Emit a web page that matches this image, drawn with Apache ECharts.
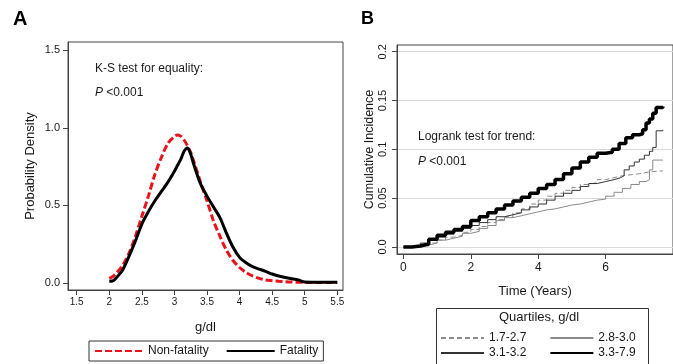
<!DOCTYPE html>
<html><head><meta charset="utf-8">
<script src="https://cdn.jsdelivr.net/npm/echarts@6/dist/echarts.min.js"></script>
<style>html,body{margin:0;padding:0;background:#fff}#c{width:673px;height:364px}</style>
</head><body><div id="c"></div>
<script>
// ---- Panel A: density of g/dl ----
const gdl = [2.0,2.05,2.1,2.2,2.3,2.4,2.5,2.6,2.7,2.8,2.9,3.0,3.05,3.1,3.15,3.2,3.25,3.3,3.4,3.5,3.6,3.7,3.8,3.9,4.0,4.1,4.2,4.3,4.4,4.5,4.6,4.7,4.8,4.9,5.0,5.1,5.2,5.3,5.4,5.5];
const nonFatality = [0.03,0.04,0.06,0.11,0.19,0.30,0.43,0.56,0.70,0.81,0.90,0.945,0.953,0.945,0.92,0.885,0.84,0.78,0.65,0.53,0.40,0.30,0.21,0.145,0.10,0.068,0.046,0.03,0.02,0.015,0.011,0.008,0.006,0.005,0.004,0.003,0.003,0.003,0.003,0.003];
const fatality = [0.012,0.013,0.03,0.08,0.17,0.27,0.38,0.46,0.53,0.59,0.65,0.72,0.76,0.80,0.85,0.87,0.83,0.76,0.64,0.56,0.49,0.42,0.32,0.23,0.165,0.13,0.105,0.09,0.075,0.058,0.045,0.035,0.028,0.02,0.006,0.005,0.005,0.005,0.005,0.005];
const aXTicks = [1.5,2,2.5,3,3.5,4,4.5,5,5.5];
const aYTicks = [0,0.5,1.0,1.5];

// ---- Panel B: cumulative incidence by quartile ----
const q1Years = [0,0.5,0.75,1.0,1.25,1.5,1.75,2.0,2.25,2.5,2.75,3.0,3.25,3.5,3.75,4.0,4.25,4.5,4.75,5.0,5.25,5.5,5.75,6.0,6.25,6.5,6.75,7.0,7.15,7.3,7.7];
const q1Inc   = [0,0.001,0.004,0.007,0.010,0.012,0.015,0.018,0.021,0.025,0.028,0.031,0.035,0.039,0.044,0.048,0.052,0.055,0.058,0.061,0.064,0.066,0.069,0.071,0.073,0.074,0.075,0.076,0.077,0.078,0.078];
const q2Years = [0,0.5,0.75,1.0,1.25,1.5,1.75,2.0,2.25,2.5,2.75,3.0,3.25,3.5,3.75,4.0,4.25,4.5,4.75,5.0,5.25,5.5,5.75,6.0,6.25,6.5,6.75,7.0,7.2,7.3,7.4,7.7];
const q2Inc   = [0,0.002,0.004,0.007,0.009,0.011,0.014,0.016,0.019,0.022,0.027,0.030,0.032,0.034,0.036,0.038,0.039,0.041,0.043,0.044,0.046,0.048,0.049,0.052,0.056,0.060,0.064,0.067,0.069,0.079,0.089,0.089];
const q3Years = [0,0.25,0.5,0.75,1.0,1.25,1.5,1.75,2.0,2.25,2.5,2.75,3.0,3.25,3.5,3.75,4.0,4.25,4.5,4.75,5.0,5.25,5.5,5.75,6.0,6.25,6.45,6.55,6.7,6.85,7.0,7.15,7.3,7.4,7.5,7.7];
const q3Inc   = [0,0.001,0.004,0.007,0.010,0.013,0.016,0.019,0.022,0.025,0.028,0.031,0.033,0.035,0.038,0.041,0.044,0.048,0.052,0.055,0.058,0.062,0.065,0.067,0.069,0.071,0.073,0.079,0.083,0.087,0.090,0.094,0.098,0.102,0.119,0.120];
const q4Years = [0,0.25,0.5,0.75,1.0,1.25,1.5,1.75,2.0,2.25,2.5,2.75,3.0,3.25,3.5,3.75,4.0,4.25,4.5,4.75,5.0,5.25,5.5,5.75,6.0,6.2,6.4,6.6,6.8,7.0,7.1,7.2,7.3,7.4,7.5,7.7];
const q4Inc   = [0,0.001,0.003,0.008,0.012,0.015,0.018,0.021,0.027,0.031,0.035,0.039,0.043,0.047,0.051,0.055,0.060,0.064,0.069,0.075,0.081,0.087,0.092,0.096,0.097,0.100,0.106,0.112,0.115,0.116,0.120,0.127,0.131,0.137,0.143,0.144];
const bXTicks = [0,2,4,6];
const bYTicks = [0,0.05,0.1,0.15,0.2];

const zip = (xs, ys) => xs.map((x, i) => [x, ys[i]]);
const FONT = "'Liberation Sans', Arial, sans-serif";
const TXT = '#1a1a1a';
const noSymbol = {color: 'rgba(0,0,0,0)', borderWidth: 0, opacity: 0};

const chart = echarts.init(document.getElementById('c'), null, {renderer: 'canvas'});
chart.setOption({
  animation: false,
  textStyle: {fontFamily: FONT, color: TXT},
  grid: [
    {left: 68, top: 42, right: 330, bottom: 74, show: true, borderColor: '#444', borderWidth: 1, containLabel: false},
    {left: 397, top: 45, right: -2.5, bottom: 110, show: true, borderColor: '#444', borderWidth: 1, containLabel: false}
  ],
  xAxis: [
    {gridIndex: 0, type: 'value', min: 1.366, max: 5.588,
     name: 'g/dl', nameLocation: 'middle', nameGap: 31, nameTextStyle: {fontSize: 13, color: TXT, fontFamily: FONT},
     axisLine: {show: true, onZero: false, lineStyle: {color: '#444', width: 1}},
     axisTick: {show: true, length: 5, customValues: aXTicks, lineStyle: {color: '#444'}},
     axisLabel: {customValues: aXTicks, fontSize: 10, color: TXT, margin: 7, fontFamily: FONT, formatter: v => String(v)},
     splitLine: {show: false}},
    {gridIndex: 1, type: 'value', min: -0.191, max: 8,
     name: 'Time (Years)', nameLocation: 'middle', nameGap: 31, nameTextStyle: {fontSize: 13, color: TXT, fontFamily: FONT},
     axisLine: {show: true, onZero: false, lineStyle: {color: '#444', width: 1}},
     axisTick: {show: true, length: 5, customValues: bXTicks, lineStyle: {color: '#444'}},
     axisLabel: {customValues: bXTicks, fontSize: 12, color: TXT, margin: 8, fontFamily: FONT, formatter: v => String(v)},
     splitLine: {show: false}}
  ],
  yAxis: [
    {gridIndex: 0, type: 'value', min: -0.045, max: 1.553,
     name: 'Probability Density', nameLocation: 'middle', nameRotate: 90, nameGap: 31, nameTextStyle: {fontSize: 13, color: TXT, fontFamily: FONT},
     axisLine: {show: true, onZero: false, lineStyle: {color: '#444', width: 1}},
     axisTick: {show: true, length: 5, customValues: aYTicks, lineStyle: {color: '#444'}},
     axisLabel: {customValues: aYTicks, fontSize: 11, color: TXT, margin: 8, fontFamily: FONT, formatter: v => v.toFixed(1)},
     splitLine: {show: false}},
    {gridIndex: 1, type: 'value', min: -0.0072, max: 0.2069,
     name: 'Cumulative Incidence', nameLocation: 'middle', nameRotate: 90, nameGap: 21, nameTextStyle: {fontSize: 12.5, color: TXT, fontFamily: FONT},
     axisLine: {show: true, onZero: false, lineStyle: {color: '#444', width: 1}},
     axisTick: {show: true, length: 5, customValues: bYTicks, lineStyle: {color: '#444'}},
     axisLabel: {customValues: bYTicks, rotate: 90, fontSize: 11, color: TXT, margin: 9, fontFamily: FONT,
                 formatter: v => (v === 0 ? '0.0' : String(+v.toFixed(2)))},
     splitLine: {show: true, lineStyle: {color: '#dadada', width: 1}}}
  ],
  legend: [
    {data: ['Non-fatality', 'Fatality'], left: 89, top: 341, orient: 'horizontal',
     itemWidth: 48, itemHeight: 12, itemGap: 17, padding: [4, 5, 4, 5], itemStyle: noSymbol,
     borderColor: '#333', borderWidth: 1, textStyle: {fontSize: 12, color: TXT, fontFamily: FONT}},
    {data: ['1.7-2.7', '2.8-3.0'], left: 440, top: 332, orient: 'horizontal',
     itemWidth: 43, itemHeight: 12, itemGap: 23, padding: 0, itemStyle: noSymbol,
     textStyle: {fontSize: 12, color: TXT, fontFamily: FONT}},
    {data: ['3.1-3.2', '3.3-7.9'], left: 440, top: 347, orient: 'horizontal',
     itemWidth: 43, itemHeight: 12, itemGap: 23, padding: 0, itemStyle: noSymbol,
     textStyle: {fontSize: 12, color: TXT, fontFamily: FONT}}
  ],
  graphic: [
    {type: 'text', left: 13, top: 9, style: {text: 'A', font: 'bold 20px ' + FONT, fill: '#000'}},
    {type: 'text', left: 361, top: 10, style: {text: 'B', font: 'bold 18px ' + FONT, fill: '#000'}},
    {type: 'text', left: 95, top: 63, style: {text: 'K-S test for equality:', font: '12px ' + FONT, fill: TXT}},
    {type: 'text', left: 95, top: 87, style: {text: '{i|P} <0.001', font: '12px ' + FONT, fill: TXT,
      rich: {i: {fontStyle: 'italic', fontSize: 12, fontFamily: FONT, fill: TXT}}}},
    {type: 'text', left: 418, top: 131, style: {text: 'Logrank test for trend:', font: '12px ' + FONT, fill: TXT}},
    {type: 'text', left: 418, top: 156, style: {text: '{i|P} <0.001', font: '12px ' + FONT, fill: TXT,
      rich: {i: {fontStyle: 'italic', fontSize: 12, fontFamily: FONT, fill: TXT}}}},
    {type: 'rect', left: 434, top: 306, shape: {width: 212, height: 57}, style: {fill: 'none', stroke: '#333', lineWidth: 1}, z: 0},
    {type: 'text', left: 499, top: 311, style: {text: 'Quartiles, g/dl', font: '13px ' + FONT, fill: TXT}}
  ],
  series: [
    {name: 'Non-fatality', type: 'line', xAxisIndex: 0, yAxisIndex: 0, data: zip(gdl, nonFatality),
     smooth: 0.3, symbol: 'none', lineStyle: {color: '#e8141b', width: 3, type: [7, 3]}, itemStyle: {color: '#e8141b'}, z: 3},
    {name: 'Fatality', type: 'line', xAxisIndex: 0, yAxisIndex: 0, data: zip(gdl, fatality),
     smooth: 0.3, symbol: 'none', lineStyle: {color: '#000', width: 3}, itemStyle: {color: '#000'}, z: 4},
    {name: '1.7-2.7', type: 'line', xAxisIndex: 1, yAxisIndex: 1, data: zip(q1Years, q1Inc), step: 'end',
     symbol: 'none', lineStyle: {color: '#8a8a8a', width: 1, type: [5, 3]}, itemStyle: {color: '#8a8a8a'}},
    {name: '2.8-3.0', type: 'line', xAxisIndex: 1, yAxisIndex: 1, data: zip(q2Years, q2Inc), step: 'end',
     symbol: 'none', lineStyle: {color: '#8a8a8a', width: 1}, itemStyle: {color: '#8a8a8a'}},
    {name: '3.1-3.2', type: 'line', xAxisIndex: 1, yAxisIndex: 1, data: zip(q3Years, q3Inc), step: 'end',
     symbol: 'none', lineStyle: {color: '#333', width: 1}, itemStyle: {color: '#333'}},
    {name: '3.3-7.9', type: 'line', xAxisIndex: 1, yAxisIndex: 1, data: zip(q4Years, q4Inc), step: 'end',
     symbol: 'none', lineStyle: {color: '#000', width: 3.5}, itemStyle: {color: '#000'}, z: 5}
  ]
});
</script>
</body></html>
